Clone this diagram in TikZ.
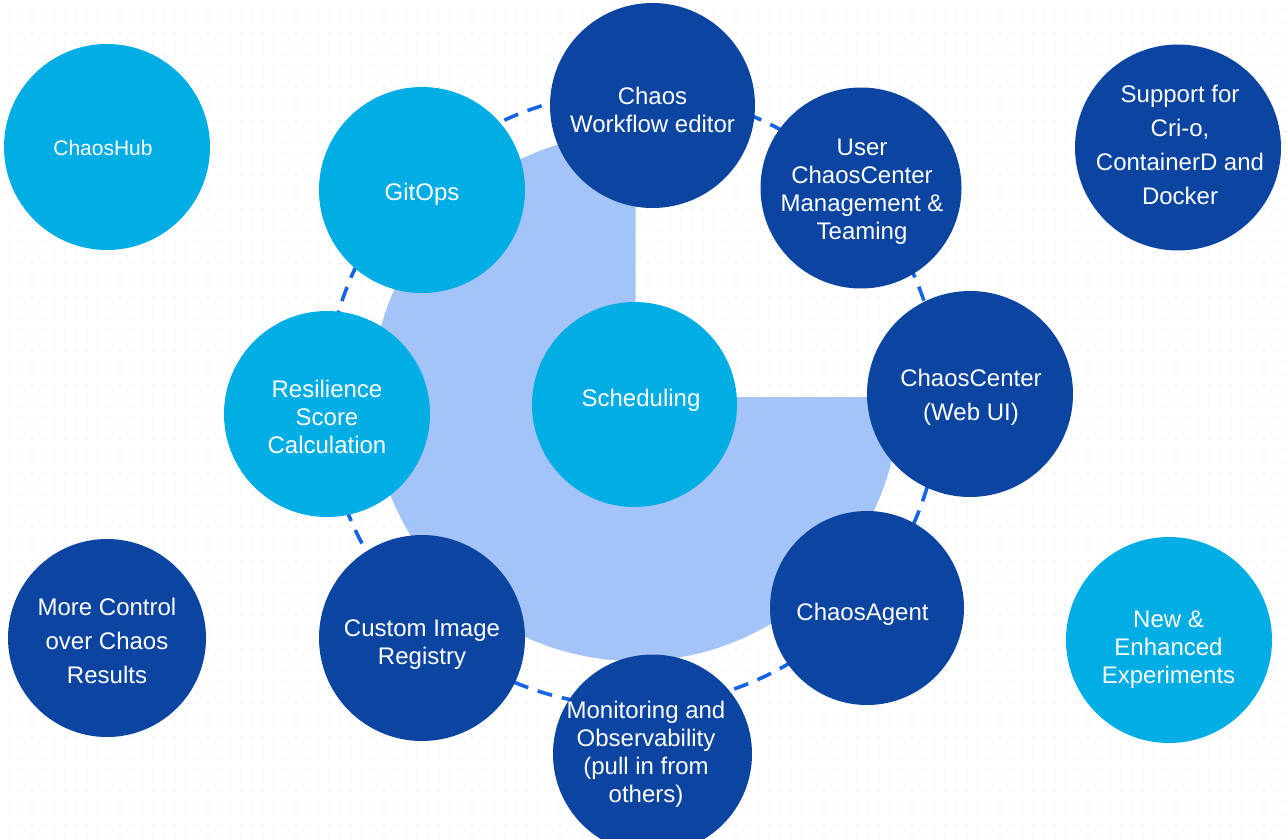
\documentclass[tikz,border=0pt]{standalone}
\usepackage{fontspec}
\setmainfont{Liberation Sans}
\usetikzlibrary{calc}

\definecolor{lightball}{HTML}{00ADE4}
\definecolor{darkball}{HTML}{0B45A1}
\definecolor{piefill}{HTML}{A4C3F7}
\definecolor{ringblue}{HTML}{1464E6}
\definecolor{gridgray}{HTML}{EAEAEA}

\begin{document}
\begin{tikzpicture}[
  x=1pt, y=-1pt,
  gridline/.style={draw=gridgray, line width=0.9pt, dash pattern=on 2pt off 9pt},
  ring/.style={draw=ringblue, line width=3.6pt, dash pattern=on 15pt off 10pt},
  lightdisc/.style={circle, fill=lightball, draw=none, inner sep=0pt, minimum size=#1},
  darkdisc/.style={circle, fill=darkball, draw=none, inner sep=0pt, minimum size=#1},
  txt/.style={text=white, align=center, inner sep=0pt, font=\fontsize{24}{28}\selectfont},
  txtloose/.style={txt, font=\fontsize{24}{34}\selectfont},
]
% canvas
\clip (0,0) rectangle (1287,838);
\fill[white] (0,0) rectangle (1287,838);
\foreach \r in {10,21,...,836} \draw[gridline] (9,\r) -- (1290,\r);

% three-quarter sector behind the core
\coordinate (core) at (635.5,397);
\fill[piefill] (core) -- ++(0,-264) arc[start angle=90, end angle=360, radius=264pt] -- cycle;

% dashed orbit
\coordinate (orbit) at (633,399);
\draw[ring] (orbit) circle[radius=307pt];

% discs
\node[lightdisc=206pt] (hub) at (107,147) {};
\node[darkdisc=205pt] (workflow) at (652.5,105.5) {};
\node[lightdisc=206pt] (gitops) at (422,190) {};
\node[darkdisc=201pt] (user) at (861,188) {};
\node[darkdisc=206pt] (support) at (1178,147.5) {};
\node[lightdisc=206pt] (resilience) at (327,414) {};
\node[lightdisc=205pt] (scheduling) at (634.5,404.5) {};
\node[darkdisc=206pt] (webui) at (970,394) {};
\node[darkdisc=198pt] (control) at (107,638) {};
\node[darkdisc=206pt] (registry) at (422,638) {};
\node[darkdisc=194pt] (agent) at (867,608) {};
\node[lightdisc=206pt] (experiments) at (1169,640) {};
\node[darkdisc=199pt] (monitoring) at (652.5,754) {};

% labels
\node[txt, font=\fontsize{21}{25}\selectfont] (hub-t) at (103,148) {ChaosHub};
\node[txt] (workflow-t) at (652.5,110) {Chaos\\Workflow editor};
\node[txt] (gitops-t) at (422,194) {GitOps};
\node[txt] (user-t) at (862,192) {User\\ChaosCenter\\Management \&\\Teaming};
\node[txtloose] (support-t) at (1180,145) {Support for\\Cri-o,\\ContainerD and\\Docker};
\node[txt] (resilience-t) at (327,417) {Resilience\\Score\\Calculation};
\node[txt] (scheduling-t) at (641,400) {Scheduling};
\node[txtloose] (webui-t) at (971,397.5) {ChaosCenter\\(Web UI)};
\node[txtloose] (control-t) at (107,641) {More Control\\over Chaos\\Results};
\node[txt] (registry-t) at (422,645) {Custom Image\\Registry};
\node[txt] (agent-t) at (862.5,614) {ChaosAgent};
\node[txt] (experiments-t) at (1168.5,650) {New \&\\Enhanced\\Experiments};
\node[txt] (monitoring-t) at (646,754) {Monitoring and\\Observability\\(pull in from\\others)};
\end{tikzpicture}
\end{document}
